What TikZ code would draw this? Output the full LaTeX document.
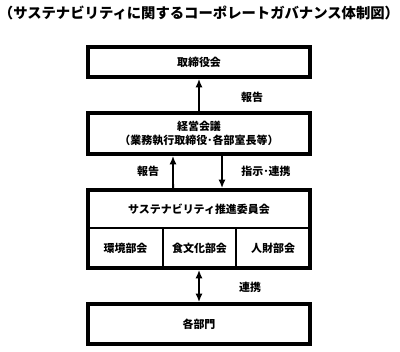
\documentclass[tikz,border=0pt]{standalone}
\usepackage{fontspec}
\newfontfamily\jp{Noto Sans CJK JP}
\usetikzlibrary{arrows.meta,positioning,fit,calc}

\begin{document}
\begin{tikzpicture}[
    x=0.025cm, y=-0.025cm,
    box/.style={draw, line width=2.6pt, minimum width=5.55cm, inner sep=0pt, font=\jp\bfseries\fontsize{7.8}{10}\selectfont, align=center},
    part/.style={inner sep=0pt, outer sep=0pt, minimum height=1cm, font=\jp\bfseries\fontsize{7.8}{10}\selectfont},
    lbl/.style={font=\jp\bfseries\fontsize{7.8}{10}\selectfont},
    link/.style={line width=1.4pt, -{Latex[length=6pt,width=5pt]}},
]
\useasboundingbox (0,0) rectangle (400,351);

% title
\node[font=\jp\bfseries\fontsize{10.2}{12}\selectfont] (title) at (199,13) {（サステナビリティに関するコーポレートガバナンス体制図）};

% boxes
\node[box, minimum height=0.75cm] (board) at (199,62) {取締役会};
\node[box, minimum height=1.025cm] (mgmt) at (199,133.5) {経営会議\\（業務執行取締役･各部室長等）};

% committee with three sections
\node[part, minimum width=5.55cm, minimum height=0.95cm] (comm) at (199,209) {サステナビリティ推進委員会};
\node[part, minimum width=1.875cm, anchor=north west] (env) at (88,228) {環境部会};
\node[part, minimum width=1.825cm, right=0pt of env] (food) {食文化部会};
\node[part, minimum width=1.85cm, right=0pt of food] (hr) {人財部会};
\node[draw, line width=2.6pt, inner sep=0pt, fit=(comm)(env)(hr)] (frame) {};
\draw[line width=1pt] (comm.south west) -- (comm.south east);
\draw[line width=1pt] (env.north east) -- (env.south east);
\draw[line width=1pt] (food.north east) -- (food.south east);

\node[box, minimum height=1cm] (dept) at (199,324) {各部門};

% connectors
\draw[link] (mgmt.north) -- (board.south);
\node[lbl] (rep1) at (252,97) {報告};
\draw[link] ($(frame.north)+(-26,0)$) -- ($(mgmt.south)+(-26,0)$);
\draw[link] ($(mgmt.south)+(23,0)$) -- ($(frame.north)+(23,0)$);
\node[lbl] (rep2) at (148,171) {報告};
\node[lbl] (instr) at (266,171) {指示･連携};
\draw[link, {Latex[length=6pt,width=5pt]}-{Latex[length=6pt,width=5pt]}] (frame.south) -- (dept.north);
\node[lbl] (coop) at (250,287) {連携};
\end{tikzpicture}
\end{document}
